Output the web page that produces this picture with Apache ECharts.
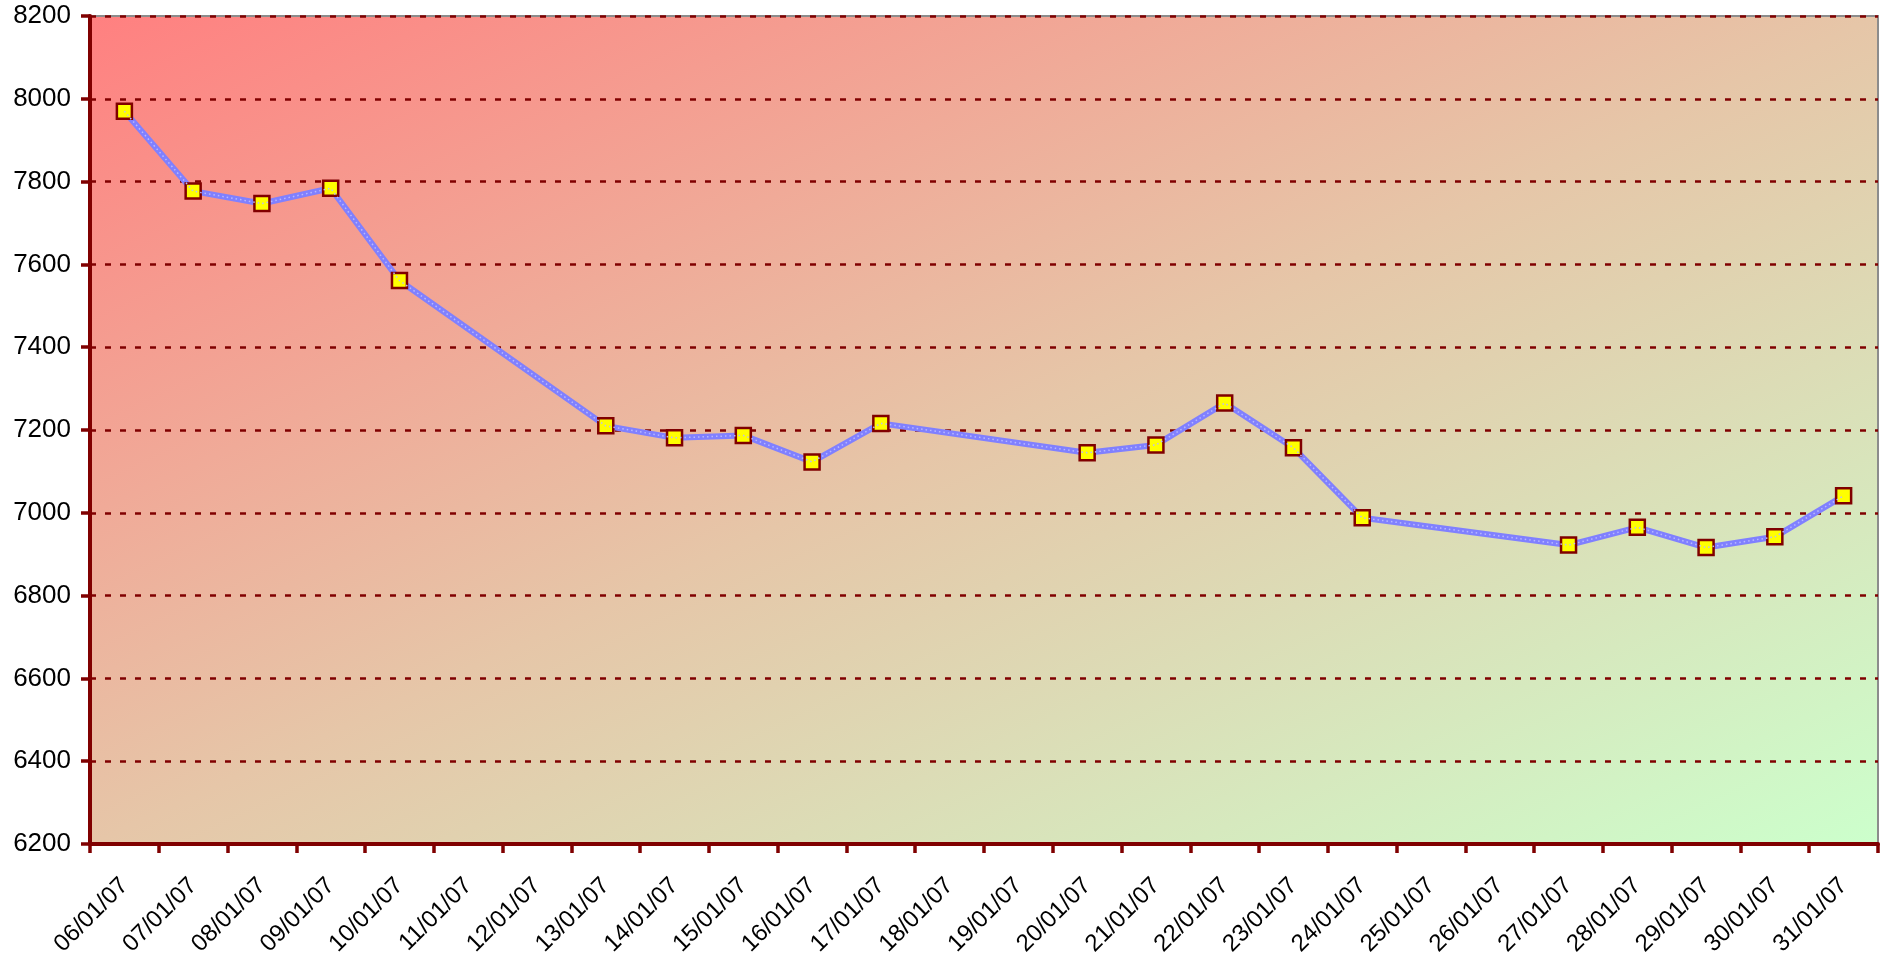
<!DOCTYPE html>
<html>
<head>
<meta charset="utf-8">
<script src="https://cdn.jsdelivr.net/npm/echarts@6/dist/echarts.min.js"></script>
<style>
  html, body { margin: 0; padding: 0; background: #fff; }
  #chart { width: 1887px; height: 969px; }
</style>
</head>
<body>
<div id="chart"></div>
<script>
// dates shown on the category axis
const days = ['06/01/07', '07/01/07', '08/01/07', '09/01/07', '10/01/07', '11/01/07', '12/01/07',
  '13/01/07', '14/01/07', '15/01/07', '16/01/07', '17/01/07', '18/01/07', '19/01/07', '20/01/07',
  '21/01/07', '22/01/07', '23/01/07', '24/01/07', '25/01/07', '26/01/07', '27/01/07', '28/01/07',
  '29/01/07', '30/01/07', '31/01/07'];
// closing values (null = no value that day, line joins across)
const values = [7970, 7777, 7747, 7784, 7561, null, null,
  7210, 7181, 7187, 7123, 7216, null, null, 7145,
  7164, 7265, 7157, 6988, null, null, 6922, 6965,
  6916, 6942, 7041];

const W = 1887, H = 969;
const gl = 90, gr = 9, gt = 16, gb = 125;
const pw = W - gl - gr, ph = H - gt - gb;
// diagonal gradient: equal colour along the top-right / bottom-left diagonal
const k = 2 * pw * ph / (pw * pw + ph * ph);

let myChart = echarts.init(document.getElementById('chart'));
let option = {
  animation: false,
  textStyle: { fontFamily: 'Arial' },
  grid: {
    left: gl,
    right: gr,
    top: gt,
    bottom: gb,
    show: true,
    borderColor: '#8c8c8c',
    borderWidth: 2,
    backgroundColor: new echarts.graphic.LinearGradient(gl, gt, gl + ph * k, gt + pw * k, [
      { offset: 0, color: '#ff8080' },
      { offset: 0.5, color: '#e6c6a8' },
      { offset: 1, color: '#ccffcc' }
    ], true)
  },
  xAxis: {
    type: 'category',
    data: days,
    boundaryGap: true,
    axisLine: { lineStyle: { color: '#800000', width: 4 } },
    axisTick: { show: true, length: 9, lineStyle: { color: '#800000', width: 3.5 } },
    axisLabel: {
      rotate: 45,
      margin: 38,
      interval: 0,
      fontSize: 24,
      color: '#000',
      fontFamily: 'Arial'
    },
    splitLine: { show: false }
  },
  yAxis: {
    type: 'value',
    min: 6200,
    max: 8200,
    interval: 200,
    axisLine: { show: true, lineStyle: { color: '#800000', width: 4 } },
    axisTick: { show: true, length: 9, lineStyle: { color: '#800000', width: 3.5 } },
    axisLabel: {
      margin: 19,
      fontSize: 26,
      color: '#000',
      fontFamily: 'Arial',
      formatter: function (v) { return String(v); }
    },
    splitLine: {
      lineStyle: { color: '#800000', width: 2.5, type: [6, 9] }
    }
  },
  series: [
    {
      type: 'line',
      data: values,
      connectNulls: true,
      symbol: 'rect',
      symbolSize: 15,
      lineStyle: { color: '#8080ff', width: 6 },
      itemStyle: { color: '#ffff00', borderColor: '#800000', borderWidth: 2.5 },
      z: 3
    },
    {
      // light dotted texture running along the line
      type: 'line',
      data: values,
      connectNulls: true,
      symbol: 'none',
      silent: true,
      lineStyle: { color: '#b8b8ff', width: 1.5, type: [1.5, 3] },
      z: 4
    }
  ]
};
myChart.setOption(option);
</script>
</body>
</html>
